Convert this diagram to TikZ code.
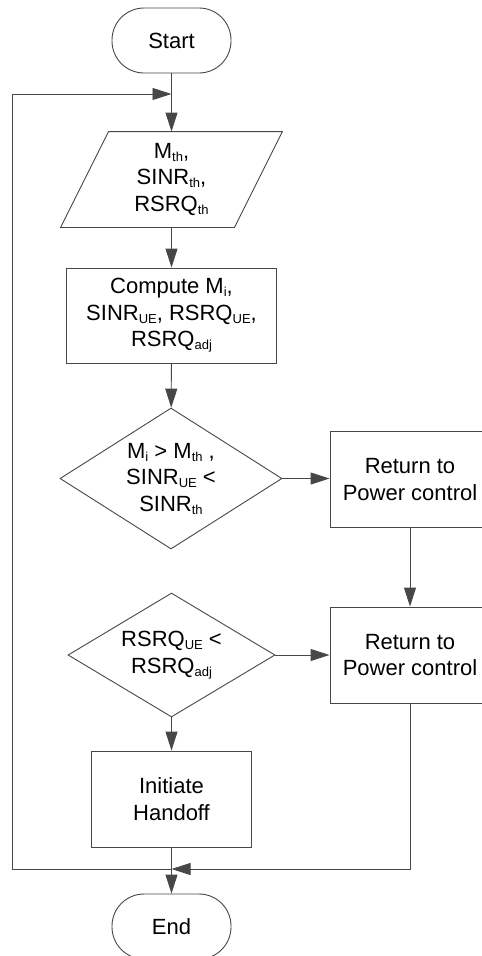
\documentclass[tikz,border=0pt]{standalone}
\usepackage{fontspec}
\setmainfont{Liberation Sans}
\usetikzlibrary{shapes.geometric,arrows.meta}
\newcommand\ssb[1]{\raisebox{-3pt}{\fontsize{13}{13}\selectfont #1}}
\tikzset{
  base/.style={font=\fontsize{22}{26.5}\selectfont, align=center, inner sep=0pt, line width=0.9pt, draw=black!72},
  term/.style={base, rectangle, rounded corners=32pt, minimum width=119pt, minimum height=65pt},
  proc/.style={base, rectangle, minimum height=96pt},
  dec/.style={base, diamond},
  conn/.style={line width=0.9pt, draw=black!72},
  arr/.style={conn, -{Triangle[length=19pt,width=12pt]}},
}
\begin{document}
\begin{tikzpicture}[x=1pt,y=-1pt]
\useasboundingbox (0,0) rectangle (482,956);
\clip (0,0) rectangle (482,956);
\node[term] (start) at (171.5,40.5) {Start};
\node[base, draw=none, minimum width=173pt, minimum height=95pt] (par) at (171.5,179.5) {M\ssb{th},\\SINR\ssb{th},\\RSRQ\ssb{th}};
\draw[conn] ([xshift=-24pt]par.south west) -- ([xshift=-24pt]par.south east) -- ([xshift=24pt]par.north east) -- ([xshift=24pt]par.north west) -- cycle;
\node[proc, minimum width=210pt, minimum height=95pt] (comp) at (171.5,315.5) {Compute M\ssb{i},\\SINR\ssb{UE}, RSRQ\ssb{UE},\\RSRQ\ssb{adj}};
\node[dec, aspect=1.574, minimum width=222pt, minimum height=141pt] (d1) at (171,478.5) {M\ssb{i} > M\ssb{th} ,\\SINR\ssb{UE} <\\SINR\ssb{th}};
\node[proc, minimum width=160pt] (r1) at (410,479.5) {Return to\\Power control};
\node[dec, aspect=1.669, minimum width=207pt, minimum height=124pt] (d2) at (171.5,655) {RSRQ\ssb{UE} <\\RSRQ\ssb{adj}};
\node[proc, minimum width=160pt] (r2) at (410,655) {Return to\\Power control};
\node[proc, minimum width=159.5pt] (hand) at (171.5,799) {Initiate\\Handoff};
\node[term] (end) at (171.5,926.5) {End};
\coordinate (j) at (171.5,869);
\coordinate (top) at (171.5,94);
\coordinate (lb) at (12.5,869);
\coordinate (lt) at (12.5,94);
\draw[arr] (start) -- (par);
\draw[arr] (j) -- (lb) -- (lt) -- (top);
\draw[arr] (par) -- (comp);
\draw[arr] (comp) -- (d1);
\draw[arr] (d1.east) -- (d1.east -| r1.west);
\draw[arr] (r1) -- (r2);
\draw[arr] (d2) -- (r2);
\draw[arr] (d2) -- (hand);
\draw[arr] (hand) -- (end);
\draw[arr] (r2.south) |- (j);
\end{tikzpicture}
\end{document}
